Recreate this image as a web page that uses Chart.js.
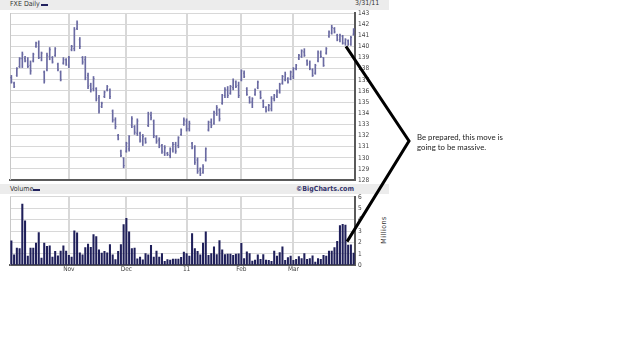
<!DOCTYPE html>
<html>
<head>
<meta charset="utf-8">
<script src="https://cdn.jsdelivr.net/npm/chart.js@4.4.1/dist/chart.umd.min.js"></script>
<style>
  body { margin: 0; width: 625px; height: 351px; background: #fff; position: relative; overflow: hidden; }
  .band { position: absolute; left: 0; width: 389px; height: 10px; background: #ececec; }
  .lbl { position: absolute; font-family: "Liberation Sans Narrow", "DejaVu Sans Condensed", sans-serif; font-size: 7px; color: #333; line-height: 10px; white-space: nowrap; }
  .sw { position: absolute; width: 7px; height: 2px; background: #22225e; }
  canvas { position: absolute; left: 0; }
  #note { position: absolute; left: 417px; top: 132px; font-family: Lato, "Open Sans", sans-serif; font-size: 7.8px; line-height: 10px; color: #222; white-space: nowrap; }
  #arrow { position: absolute; left: 0; top: 0; }
</style>
</head>
<body>
<div class="band" style="top:0"></div>
<div class="lbl" style="left:10px;top:-1px">FXE Daily</div>
<div class="sw" style="left:41px;top:4px"></div>
<div class="lbl" style="left:355px;top:-2px">3/31/11</div>

<div class="band" style="top:184px"></div>
<div class="lbl" style="left:10px;top:184px">Volume</div>
<div class="sw" style="left:33px;top:189px"></div>
<div class="lbl" style="right:271px;top:184px;font-weight:bold;color:#33336b">©BigCharts.com</div>
<div class="lbl" style="left:384px;top:230px;transform:translate(-50%,-50%) rotate(-90deg);letter-spacing:0.5px">Millions</div>

<canvas id="priceChart" width="390" height="187" style="top:0"></canvas>
<canvas id="volChart" width="390" height="83" style="top:190px"></canvas>

<svg id="arrow" width="625" height="351"><polyline id="arrowLine" fill="none" stroke="#000" stroke-width="3" points=""/></svg>
<div id="note">Be prepared, this move is<br>going to be massive.</div>

<script>
// trading days, Oct 1 2010 - Mar 31 2011
var dates = [
  "10/1/10","10/4/10","10/5/10","10/6/10","10/7/10","10/8/10","10/11/10","10/12/10","10/13/10","10/14/10","10/15/10",
  "10/18/10","10/19/10","10/20/10","10/21/10","10/22/10","10/25/10","10/26/10","10/27/10","10/28/10","10/29/10",
  "11/1/10","11/2/10","11/3/10","11/4/10","11/5/10","11/8/10","11/9/10","11/10/10","11/11/10","11/12/10",
  "11/15/10","11/16/10","11/17/10","11/18/10","11/19/10","11/22/10","11/23/10","11/24/10","11/26/10","11/29/10","11/30/10",
  "12/1/10","12/2/10","12/3/10","12/6/10","12/7/10","12/8/10","12/9/10","12/10/10","12/13/10","12/14/10","12/15/10",
  "12/16/10","12/17/10","12/20/10","12/21/10","12/22/10","12/23/10","12/27/10","12/28/10","12/29/10","12/30/10","12/31/10",
  "1/3/11","1/4/11","1/5/11","1/6/11","1/7/11","1/10/11","1/11/11","1/12/11","1/13/11","1/14/11",
  "1/18/11","1/19/11","1/20/11","1/21/11","1/24/11","1/25/11","1/26/11","1/27/11","1/28/11","1/31/11",
  "2/1/11","2/2/11","2/3/11","2/4/11","2/7/11","2/8/11","2/9/11","2/10/11","2/11/11","2/14/11",
  "2/15/11","2/16/11","2/17/11","2/18/11","2/22/11","2/23/11","2/24/11","2/25/11","2/28/11",
  "3/1/11","3/2/11","3/3/11","3/4/11","3/7/11","3/8/11","3/9/11","3/10/11","3/11/11","3/14/11","3/15/11","3/16/11",
  "3/17/11","3/18/11","3/21/11","3/22/11","3/23/11","3/24/11","3/25/11","3/28/11","3/29/11","3/30/11","3/31/11"
];

var tickDates  = ["11/1/10", "12/1/10", "1/3/11", "2/1/11", "3/1/11"];
var tickLabels = ["Nov", "Dec", "11", "Feb", "Mar"];
var priceTicks = [128, 143];
var volumeTicks = [0, 6];

var highs = [
  137.4,136.8,138.1,139.0,139.5,139.1,139.0,138.7,139.4,140.4,140.5,139.5,137.8,139.4,139.9,139.1,139.9,138.5,137.8,139.0,138.9,
  139.1,140.1,141.7,142.3,140.8,139.1,139.1,137.6,136.7,137.3,136.3,135.6,135.0,136.0,136.5,136.2,134.3,133.6,132.1,130.7,130.0,
  131.4,132.0,133.7,132.9,133.5,132.3,132.1,131.8,134.1,134.1,133.4,132.0,131.8,131.2,131.1,130.5,130.9,131.4,131.4,131.9,132.6,133.6,
  133.5,133.3,131.4,131.1,130.0,129.1,129.4,130.9,133.3,133.5,134.2,134.7,134.4,135.7,136.3,136.4,136.5,137.1,136.9,136.8,
  137.9,137.8,136.3,135.5,135.4,136.2,136.9,136.0,135.2,134.6,134.8,135.5,135.7,136.1,136.7,137.4,137.7,137.2,137.8,
  138.1,138.4,139.3,139.7,139.8,138.8,138.7,138.0,138.4,139.6,139.6,139.0,139.9,141.4,141.9,141.7,141.1,141.1,141.0,140.7,140.6,140.9,141.6
];
var lows = [
  136.7,136.3,137.3,138.1,138.1,138.6,138.1,137.5,138.6,139.9,138.9,138.7,136.7,137.8,138.8,138.5,139.1,137.8,136.9,138.4,138.3,
  138.1,139.6,139.6,141.5,139.8,138.4,137.0,136.2,135.9,136.0,135.1,134.0,134.5,135.4,136.0,135.3,133.2,132.6,131.6,130.1,129.1,
  130.5,130.6,132.7,132.1,132.0,131.4,131.1,131.3,132.8,133.4,131.8,131.3,130.9,130.4,130.2,130.2,130.0,130.5,130.4,130.9,132.0,132.9,
  132.4,132.4,130.8,129.4,128.6,128.4,128.6,129.7,132.4,132.7,133.0,133.8,133.3,134.8,135.4,135.4,135.7,136.1,136.3,135.4,
  136.9,137.2,135.6,134.9,134.5,135.6,136.2,135.3,134.5,134.1,134.2,134.2,135.1,135.4,135.8,136.6,136.9,136.7,137.0,
  137.1,137.9,138.8,139.0,139.1,138.3,137.9,137.3,137.5,138.6,139.0,138.2,139.3,140.8,141.1,141.2,140.5,140.4,140.2,140.1,140.1,140.1,141.0
];
var opens = [
  137.2,136.7,137.4,138.2,138.9,138.9,138.7,138.3,138.7,140.0,140.3,139.0,137.7,137.9,139.1,139.0,139.2,138.4,137.7,138.5,138.8,
  138.3,139.7,139.8,141.6,140.6,139.0,138.8,137.4,136.5,136.2,136.2,135.4,134.6,135.5,136.1,136.1,134.2,133.4,132.0,130.6,130.0,
  130.6,130.8,132.9,132.8,132.2,132.2,131.5,131.7,132.9,133.8,133.3,131.9,131.6,131.1,130.5,130.4,130.2,130.7,131.2,131.1,132.1,133.0,
  133.3,132.6,131.3,130.9,129.8,128.9,128.7,129.8,132.5,133.2,133.1,134.0,134.3,134.9,135.6,136.1,135.8,136.3,136.8,136.5,
  137.0,137.6,136.2,135.4,135.0,135.7,136.3,135.9,135.1,134.5,134.3,134.4,135.3,135.5,135.9,136.7,137.0,137.1,137.1,
  137.3,138.0,138.9,139.1,139.5,138.7,138.5,137.9,137.6,138.7,139.4,139.0,139.4,140.9,141.2,141.6,141.0,140.6,140.9,140.3,140.5,140.2,141.1
];
var closes = [
  136.8,136.4,138.0,138.9,139.3,138.7,138.2,137.8,139.3,140.3,139.0,139.4,136.9,139.2,139.7,138.6,139.8,137.9,137.0,138.8,138.4,
  139.0,140.0,141.5,142.1,140.0,138.6,137.2,136.4,136.1,137.1,135.3,134.2,134.9,135.9,136.4,135.5,133.4,132.8,131.7,130.2,129.3,
  131.3,131.9,133.5,132.3,133.3,131.6,131.9,131.4,133.9,133.6,132.0,131.5,131.1,130.6,130.9,130.3,130.8,131.2,130.6,131.8,132.5,133.4,
  132.6,133.1,130.9,129.6,128.8,128.6,129.2,130.8,133.2,132.9,134.1,134.5,133.5,135.6,136.1,135.6,136.4,136.9,136.4,135.6,
  137.8,137.3,135.7,135.0,135.3,136.1,136.8,135.4,134.6,134.2,134.7,135.3,135.6,136.0,136.6,137.3,137.5,136.8,137.7,
  138.0,138.3,139.2,139.6,139.2,138.4,138.0,137.4,138.3,139.5,139.1,138.3,139.8,141.3,141.7,141.3,140.6,141.0,140.3,140.6,140.2,140.8,141.5
];
// millions of shares
var volume = [
  2.16,0.95,1.54,1.48,5.4,3.93,0.83,1.54,1.54,1.98,2.9,0.65,1.98,1.69,1.72,0.74,1.24,0.86,1.27,1.72,1.27,
  0.89,0.74,3.05,2.87,1.12,0.95,1.57,1.89,1.6,2.72,2.54,1.39,1.09,1.24,1.12,1.83,0.95,0.53,1.24,1.83,3.6,
  4.14,2.96,1.48,1.54,0.59,0.74,0.5,1.06,0.95,1.78,0.74,1.27,0.74,1.04,0.36,0.53,0.47,0.56,0.56,0.56,0.71,1.18,
  1.04,0.83,2.81,1.48,1.24,0.95,1.98,2.96,0.9,1.05,1.64,0.96,2.2,1.37,0.96,1.0,1.0,0.9,1.0,1.02,
  1.94,0.6,1.2,1.05,0.39,0.48,0.93,0.54,0.96,0.48,0.45,0.36,1.28,0.84,1.13,1.64,0.45,0.69,0.84,
  0.45,0.54,0.78,0.62,1.05,0.54,0.62,0.85,0.3,0.6,0.54,0.9,0.84,1.28,1.28,1.58,2.12,3.52,3.61,3.55,1.79,1.82,1.1
];

var barColor = '#6a6aa2';
var tinyFont = { family: '"Liberation Sans Narrow", "DejaVu Sans Condensed", sans-serif', size: 6.5 };

function monthGrid(c) {
  return tickDates.indexOf(dates[c.index]) >= 0 ? '#d8d8d8' : 'rgba(0,0,0,0)';
}

var leftFrame = {
  id: 'leftFrame',
  beforeDatasetsDraw: function (chart) {
    var ctx = chart.ctx, a = chart.chartArea;
    ctx.save();
    ctx.strokeStyle = '#c8c8c8';
    ctx.lineWidth = 1;
    ctx.beginPath();
    ctx.moveTo(a.left + 0.5, a.top);
    ctx.lineTo(a.left + 0.5, a.bottom);
    ctx.stroke();
    ctx.restore();
  }
};

var ohlcTicks = {
  id: 'ohlcTicks',
  afterDatasetsDraw: function (chart) {
    var ctx = chart.ctx, x = chart.scales.x, y = chart.scales.y;
    ctx.save();
    ctx.strokeStyle = barColor;
    ctx.lineWidth = 1;
    ctx.beginPath();
    for (var i = 0; i < opens.length; i++) {
      var px = x.getPixelForValue(i);
      var yo = y.getPixelForValue(opens[i]);
      var yc = y.getPixelForValue(closes[i]);
      ctx.moveTo(px - 1, yo); ctx.lineTo(px, yo);
      ctx.moveTo(px, yc); ctx.lineTo(px + 1, yc);
    }
    ctx.stroke();
    ctx.restore();
  }
};

var ranges = lows.map(function (l, i) { return [l, highs[i]]; });

var priceChart = new Chart(document.getElementById('priceChart'), {
  type: 'bar',
  data: {
    labels: dates,
    datasets: [{ data: ranges, backgroundColor: barColor, barThickness: 1, borderWidth: 0 }]
  },
  options: {
    responsive: false,
    animation: false,
    layout: { padding: { left: 10, top: 13, right: 0, bottom: 5 } },
    plugins: { legend: { display: false }, tooltip: { enabled: false } },
    scales: {
      x: {
        grid: { offset: false, color: monthGrid, lineWidth: 2, drawTicks: false },
        ticks: { display: false, autoSkip: false },
        border: { color: '#5a5a5a', width: 2 }
      },
      y: {
        position: 'right',
        min: priceTicks[0], max: priceTicks[1],
        ticks: { stepSize: 1, autoSkip: false, padding: 3, font: tinyFont, color: '#444' },
        grid: { color: '#d8d8d8', drawTicks: false },
        border: { color: '#5a5a5a', width: 2 },
        afterFit: function (s) { s.width = 35; }
      }
    }
  },
  plugins: [leftFrame, ohlcTicks]
});

var volChart = new Chart(document.getElementById('volChart'), {
  type: 'bar',
  data: {
    labels: dates,
    datasets: [{ data: volume, backgroundColor: '#1f1f5a', barPercentage: 0.75, categoryPercentage: 1 }]
  },
  options: {
    responsive: false,
    animation: false,
    layout: { padding: { left: 10, top: 5.7, right: 0, bottom: 0 } },
    plugins: { legend: { display: false }, tooltip: { enabled: false } },
    scales: {
      x: {
        grid: { offset: false, color: monthGrid, lineWidth: 2, drawTicks: false },
        ticks: {
          autoSkip: false, maxRotation: 0, minRotation: 0, padding: 0,
          font: tinyFont, color: '#444',
          callback: function (v, i) {
            var k = tickDates.indexOf(dates[i]);
            return k >= 0 ? tickLabels[k] : '';
          }
        },
        border: { color: '#5a5a5a', width: 2 }
      },
      y: {
        position: 'right',
        min: volumeTicks[0], max: volumeTicks[1],
        ticks: { stepSize: 1, autoSkip: false, padding: 3, font: tinyFont, color: '#444' },
        grid: { color: '#d8d8d8', drawTicks: false },
        border: { color: '#5a5a5a', width: 2 },
        afterFit: function (s) { s.width = 35; }
      }
    }
  },
  plugins: [leftFrame]
});

// annotation arrow: from the last price bars, out to the note, back to the last volume bars
var volTop = 190;
var p0 = [priceChart.scales.x.getPixelForValue(122.2), priceChart.scales.y.getPixelForValue(140.0)];
var p2 = [volChart.scales.x.getPixelForValue(122.6), volTop + volChart.scales.y.getPixelForValue(2.07)];
document.getElementById('arrowLine').setAttribute('points',
  p0.join(',') + ' 409,141 ' + p2.join(','));
</script>
</body>
</html>
